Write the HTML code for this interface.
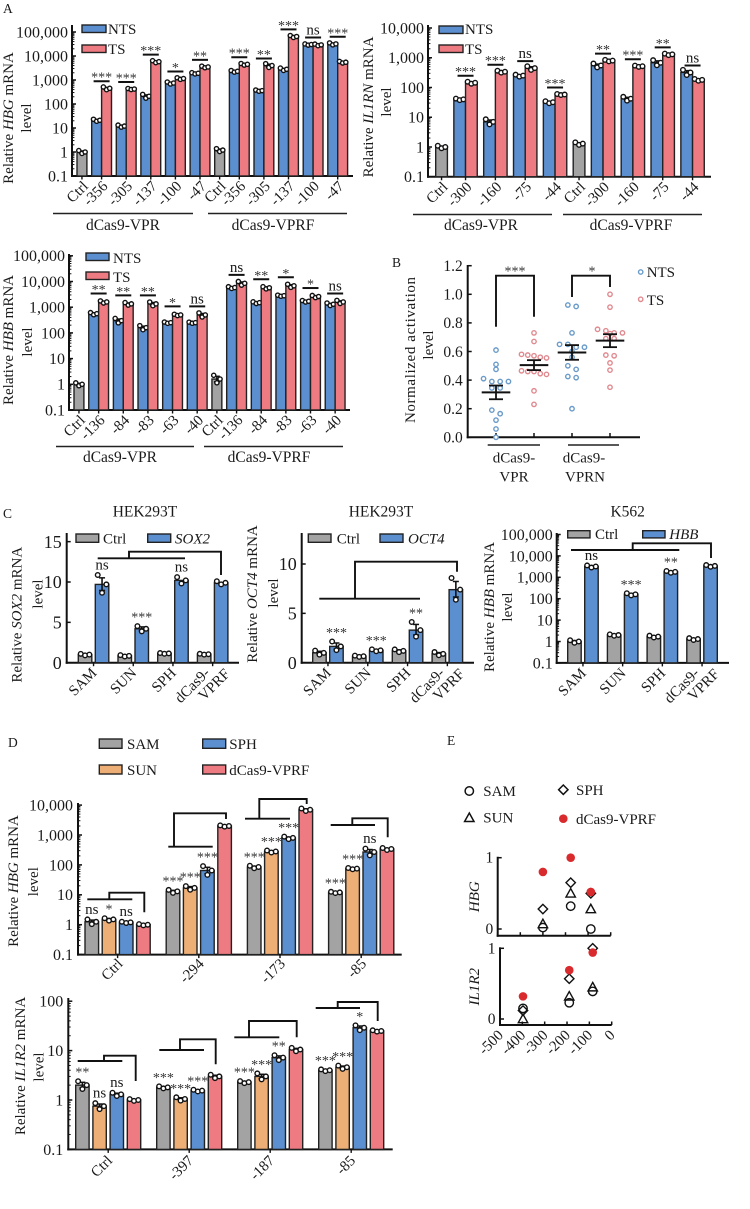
<!DOCTYPE html>
<html lang="en">
<head>
<meta charset="utf-8">
<title>CRISPR activation figure</title>
<style>
html,body{margin:0;padding:0;background:#fff;}
svg{display:block;font-family:"Liberation Serif",serif;fill:#1a1a1a;font-size:15px;}
.box{stroke:#222;stroke-width:1.4;}
.ln{fill:none;stroke:#111;stroke-width:1.9;}
.gl{fill:none;stroke:#222;stroke-width:1.4;}
.pl{font-size:13.5px;}
.ti{font-size:15.5px;}
</style>
</head>
<body>
<svg id="figure" xmlns="http://www.w3.org/2000/svg" width="750" height="1209" viewBox="0 0 750 1209">
<rect x="0" y="0" width="750" height="1209" fill="#fff"/>

<text class="pl" x="3" y="13">A</text>
<text class="pl" x="392" y="267">B</text>
<text class="pl" x="3" y="518">C</text>
<text class="pl" x="8" y="747">D</text>
<text class="pl" x="447" y="745">E</text>

<g id="chart-hbg">
  <text transform="rotate(-90 13 118)" x="13" y="118" text-anchor="middle">Relative <tspan font-style="italic">HBG</tspan> mRNA</text>
  <text transform="rotate(-90 31 118)" x="31" y="118" text-anchor="middle">level</text>
  <rect class="box" x="82" y="25" width="24" height="7.5" fill="#5b8fcf"/>
  <text x="108" y="34">NTS</text>
  <rect class="box" x="82" y="45" width="24" height="7.5" fill="#ee7b82"/>
  <text x="108" y="54">TS</text>
  <path d="M53 213.5H193M208 213.5H347" class="gl" stroke="#777"/>
  <text x="123" y="230" text-anchor="middle" font-size="15.5">dCas9-VPR</text>
  <text x="273" y="230" text-anchor="middle" font-size="15.5">dCas9-VPRF</text>
</g>

<g id="chart-il1rn">
  <text transform="rotate(-90 373 107)" x="373" y="107" text-anchor="middle">Relative <tspan font-style="italic">IL1RN</tspan> mRNA</text>
  <text transform="rotate(-90 391 102)" x="391" y="102" text-anchor="middle">level</text>
  <rect class="box" x="439" y="26" width="24" height="7.5" fill="#5b8fcf"/>
  <text x="465" y="34">NTS</text>
  <rect class="box" x="439" y="45" width="24" height="7.5" fill="#ee7b82"/>
  <text x="465" y="54">TS</text>
  <path d="M413 214.5H552M563 214.5H702" class="gl"/>
  <text x="481" y="230" text-anchor="middle" font-size="15.5">dCas9-VPR</text>
  <text x="631" y="230" text-anchor="middle" font-size="15.5">dCas9-VPRF</text>
</g>

<g id="chart-hbb">
  <text transform="rotate(-90 13 340)" x="13" y="340" text-anchor="middle">Relative <tspan font-style="italic">HBB</tspan> mRNA</text>
  <text transform="rotate(-90 32 342)" x="32" y="342" text-anchor="middle">level</text>
  <rect class="box" x="86" y="253" width="23" height="7.5" fill="#5b8fcf"/>
  <text x="113" y="263">NTS</text>
  <rect class="box" x="86" y="272" width="23" height="7.5" fill="#ee7b82"/>
  <text x="113" y="282">TS</text>
  <path d="M56 446.5H194M204 446.5H343" class="gl"/>
  <text x="120" y="462" text-anchor="middle" font-size="15.5">dCas9-VPR</text>
  <text x="269" y="462" text-anchor="middle" font-size="15.5">dCas9-VPRF</text>
</g>

<g id="chart-activation">
  <text transform="rotate(-90 415 350)" x="415" y="350" text-anchor="middle" textLength="146">Normalized activation</text>
  <text transform="rotate(-90 433 345)" x="433" y="345" text-anchor="middle">level</text>
  <path d="M496 326.7V275.7H534V316.7M572 297V275.7H610V287" class="ln"/>
  <text x="515" y="275.5" text-anchor="middle" font-size="14" fill="#333">***</text>
  <text x="592" y="275.5" text-anchor="middle" font-size="14" fill="#333">*</text>
  <circle cx="640.7" cy="272" r="2.2" fill="#fff" stroke="#6a9bc9" stroke-width="1.4"/>
  <text x="646.7" y="277">NTS</text>
  <circle cx="640.7" cy="299.3" r="2.2" fill="#fff" stroke="#e08a90" stroke-width="1.4"/>
  <text x="646.7" y="305">TS</text>
  <path d="M487.7 445H540M568 445H619" class="gl"/>
  <text x="514" y="462.7" text-anchor="middle">dCas9-</text>
  <text x="514" y="481.7" text-anchor="middle">VPR</text>
  <text x="584" y="462.7" text-anchor="middle">dCas9-</text>
  <text x="585" y="481.7" text-anchor="middle">VPRN</text>
</g>

<g id="chart-sox2">
  <text class="ti" x="145" y="516.7" text-anchor="middle">HEK293T</text>
  <text transform="rotate(-90 21.7 614.7)" x="21.7" y="614.7" text-anchor="middle">Relative <tspan font-style="italic">SOX2</tspan> mRNA</text>
  <text transform="rotate(-90 42.7 594)" x="42.7" y="594" text-anchor="middle">level</text>
  <rect class="box" x="76" y="534" width="22.7" height="8.3" fill="#a3a3a3"/>
  <text x="103" y="543.3">Ctrl</text>
  <rect class="box" x="147.7" y="534" width="23" height="8.3" fill="#5b8fcf"/>
  <text x="175" y="543.3" font-style="italic">SOX2</text>
  <path d="M97.7 558.3H185M129 558.3V551.7H221V575" class="ln"/>
</g>

<g id="chart-oct4">
  <text class="ti" x="381" y="516.7" text-anchor="middle">HEK293T</text>
  <text transform="rotate(-90 257 594)" x="257" y="594" text-anchor="middle">Relative <tspan font-style="italic">OCT4</tspan> mRNA</text>
  <text transform="rotate(-90 278 593)" x="278" y="593" text-anchor="middle">level</text>
  <rect class="box" x="308.3" y="534" width="22.7" height="8.3" fill="#a3a3a3"/>
  <text x="336.7" y="543.3">Ctrl</text>
  <rect class="box" x="380" y="534" width="23" height="8.3" fill="#5b8fcf"/>
  <text x="408" y="543.3" font-style="italic">OCT4</text>
  <path d="M319.3 598.7H420M355 598.7V561.7H457V571.7" class="ln"/>
</g>

<g id="chart-k562">
  <text class="ti" x="627.7" y="516.7" text-anchor="middle">K562</text>
  <text transform="rotate(-90 494 607)" x="494" y="607" text-anchor="middle">Relative <tspan font-style="italic">HBB</tspan> mRNA</text>
  <text transform="rotate(-90 512 607)" x="512" y="607" text-anchor="middle">level</text>
  <rect class="box" x="567.7" y="530.7" width="22.3" height="7.2" fill="#a3a3a3"/>
  <text x="595" y="539">Ctrl</text>
  <rect class="box" x="642.7" y="530.7" width="22.3" height="7.2" fill="#5b8fcf"/>
  <text x="669.3" y="539" font-style="italic">HBB</text>
  <path d="M571 550H679.3M632.7 550V543.3H711V558" class="ln"/>
</g>

<g id="chart-d-legend">
  <rect class="box" x="99.3" y="739" width="22.7" height="9.3" fill="#a3a3a3"/>
  <text x="127" y="749">SAM</text>
  <rect class="box" x="99.3" y="765" width="22.7" height="9" fill="#eeaf76"/>
  <text x="127" y="775">SUN</text>
  <rect class="box" x="202.7" y="739" width="23" height="9.3" fill="#5b8fcf"/>
  <text x="229.3" y="749">SPH</text>
  <rect class="box" x="202.7" y="765" width="23" height="9" fill="#ee7b82"/>
  <text x="229.3" y="775">dCas9-VPRF</text>
</g>

<g id="chart-d-hbg">
  <text transform="rotate(-90 18 881)" x="18" y="881" text-anchor="middle">Relative <tspan font-style="italic">HBG</tspan> mRNA</text>
  <text transform="rotate(-90 38 881.7)" x="38" y="881.7" text-anchor="middle">level</text>
  <path d="M87.3 899.3H132.3M109.3 899.3V892.7H144.3V912.3" class="ln"/>
  <path d="M168.3 846.7H212.7M174 846.7V813.3H226V819" class="ln"/>
  <path d="M245 818.7H290M259.3 818.7V799H306.7V804" class="ln"/>
  <path d="M330.7 825H375M352.3 825V818.3H387.7V837.3" class="ln"/>
</g>

<g id="chart-d-il1r2">
  <text transform="rotate(-90 25 1066)" x="25" y="1066" text-anchor="middle">Relative <tspan font-style="italic">IL1R2</tspan> mRNA</text>
  <text transform="rotate(-90 43.3 1067)" x="43.3" y="1067" text-anchor="middle">level</text>
  <path d="M77.7 1061H122.3M104 1061V1055.7H135.7V1081" class="ln"/>
  <path d="M159.3 1050H204M180 1050V1039.3H215.7V1064.3" class="ln"/>
  <path d="M234.3 1037.3H279.3M249 1037.3V1021H296.7V1037.3" class="ln"/>
  <path d="M315.7 1008H360M337.7 1008V1002H377.7V1021" class="ln"/>
</g>

<g id="chart-e">
  <circle cx="469.3" cy="791" r="4.2" fill="none" stroke="#111" stroke-width="1.5"/>
  <text x="483.3" y="796">SAM</text>
  <path d="M469.3 813L474 821.5H464.6Z" fill="none" stroke="#111" stroke-width="1.5"/>
  <text x="483.3" y="822.7">SUN</text>
  <path d="M563.3 785L568 789.7L563.3 794.4L558.6 789.7Z" fill="none" stroke="#111" stroke-width="1.5"/>
  <text x="576" y="795">SPH</text>
  <circle cx="563.3" cy="818.7" r="4.3" fill="#d92a2e"/>
  <text x="576" y="824">dCas9-VPRF</text>
  <text transform="rotate(-90 479 896.7)" x="479" y="896.7" text-anchor="middle" font-style="italic">HBG</text>
  <text transform="rotate(-90 479 986.7)" x="479" y="986.7" text-anchor="middle" font-style="italic">IL1R2</text>
</g>
</svg>

<script>
/* ---------- Panel A: HBG ---------- */
const hbgSites = ['Ctrl','-356','-305','-137','-100','-47','Ctrl','-356','-305','-137','-100','-47'];
const hbgNts = [1,21,12,210,750,1900,1.2,2300,360,2800,30000,32000];
const hbgTs = [null,450,420,5800,1150,3500,null,4500,4000,65000,29000,5500];
const hbgNtsSpread = [0.15,0.1,0.1,0.2,0.1,0.06,0.15,0.08,0.06,0.12,0.06,0.1];
const hbgTsSpread = [0,0.14,0.05,0.1,0.08,0.08,0,0.08,0.2,0.1,0.08,0.08];
const hbgSig = ['','***','***','***','*','**','','***','**','***','ns','***'];
const hbgTickValues = [0.1,1,10,100,1000,10000,100000];
const hbgTickLabels = ['0.1','1','10','100','1,000','10,000','100,000'];

/* ---------- Panel A: IL1RN ---------- */
const il1rnSites = ['Ctrl','-300','-160','-75','-44','Ctrl','-300','-160','-75','-44'];
const il1rnNts = [1,40,7,250,32,1.3,550,42,680,320];
const il1rnTs = [null,145,340,450,58,null,800,520,1300,180];
const il1rnNtsSpread = [0.1,0.06,0.22,0.08,0.08,0.1,0.16,0.16,0.22,0.22];
const il1rnTsSpread = [0,0.08,0.08,0.15,0.04,0,0.06,0.05,0.06,0.07];
const il1rnSig = ['','***','***','ns','***','','**','***','**','ns'];
const il1rnTickValues = [0.1,1,10,100,1000,10000];
const il1rnTickLabels = ['0.1','1','10','100','1,000','10,000'];

/* ---------- Panel A: HBB ---------- */
const hbbSites = ['Ctrl','-136','-84','-83','-63','-40','Ctrl','-136','-84','-83','-63','-40'];
const hbbNts = [1,560,300,160,250,250,1.6,5800,1500,2800,1700,1300];
const hbbTs = [null,1600,1350,1350,500,500,null,8500,5700,6800,2600,1600];
const hbbNtsSpread = [0.14,0.1,0.22,0.2,0.06,0.05,0.4,0.08,0.08,0.05,0.07,0.12];
const hbbTsSpread = [0,0.1,0.12,0.18,0.06,0.2,0,0.18,0.1,0.15,0.1,0.15];
const hbbSig = ['','**','**','**','*','ns','','ns','**','*','*','ns'];
const hbbTickValues = [0.1,1,10,100,1000,10000,100000];
const hbbTickLabels = ['0.1','1','10','100','1,000','10,000','100,000'];

/* ---------- Panel B ---------- */
const vprNts = [0.61,0.51,0.475,0.41,0.39,0.39,0.39,0.345,0.345,0.19,0.165,0.12,0.058,0];
const vprTs = [0.73,0.67,0.58,0.575,0.57,0.56,0.555,0.465,0.46,0.46,0.445,0.44,0.325,0.23];
const vprnNts = [0.925,0.915,0.73,0.65,0.65,0.63,0.63,0.6,0.56,0.5,0.475,0.425,0.417,0.2];
const vprnTs = [1,0.91,0.755,0.745,0.73,0.73,0.725,0.69,0.69,0.575,0.57,0.52,0.47,0.35];
const activationTickValues = [0,0.2,0.4,0.6,0.8,1,1.2];
const activationTickLabels = ['0.0','0.2','0.4','0.6','0.8','1.0','1.2'];

/* ---------- Panel C ---------- */
const systems = ['SAM','SUN','SPH','dCas9-|VPRF'];
const sox2Ctrl = [1,0.85,1.15,1.05];
const sox2Target = [9.7,4.2,10.2,9.9];
const sox2CtrlSpread = [0.1,0.1,0.04,0.05];
const sox2TargetSpread = [0.12,0.08,0.04,0.02];
const sox2Sig = ['ns','***','ns',''];
const sox2TickValues = [0,5,10,15];
const sox2TickLabels = ['0','5','10','15'];

const oct4Ctrl = [1,0.65,1.2,0.9];
const oct4Target = [1.65,1.25,3.3,7.4];
const oct4CtrlSpread = [0.22,0.1,0.12,0.2];
const oct4TargetSpread = [0.3,0.08,0.25,0.16];
const oct4Sig = ['***','***','**',''];
const oct4TickValues = [0,5,10];
const oct4TickLabels = ['0','5','10'];

const k562Ctrl = [1,2,1.7,1.3];
const k562Target = [3200,160,1800,3400];
const k562CtrlSpread = [0.15,0.08,0.1,0.1];
const k562TargetSpread = [0.12,0.12,0.1,0.1];
const k562Sig = ['ns','***','**',''];
const k562TickValues = [0.1,1,10,100,1000,10000,100000];
const k562TickLabels = ['0.1','1','10','100','1,000','10,000','100,000'];

/* ---------- Panel D: HBG ---------- */
const dHbgSites = ['Ctrl','-294','-173','-85'];
const dHbgSam = [1.25,13,85,12];
const dHbgSun = [1.5,17,280,75];
const dHbgSph = [1.2,65,800,270];
const dHbgVprf = [1,2000,7000,340];
const dHbgSamSpread = [0.2,0.12,0.1,0.05];
const dHbgSunSpread = [0.1,0.15,0.08,0.05];
const dHbgSphSpread = [0.05,0.4,0.1,0.3];
const dHbgVprfSpread = [0.05,0.05,0.1,0.08];
const dHbgSamSig = ['ns','***','***','***'];
const dHbgSunSig = ['*','***','***','***'];
const dHbgSphSig = ['ns','***','***','ns'];
const dHbgTickValues = [0.1,1,10,100,1000,10000];
const dHbgTickLabels = ['0.1','1','10','100','1,000','10,000'];

/* ---------- Panel D: IL1R2 ---------- */
const dIl1r2Sites = ['Ctrl','-397','-187','-85'];
const dIl1r2Sam = [2,1.8,2.3,4];
const dIl1r2Sun = [0.75,1.05,3,4.6];
const dIl1r2Sph = [1.3,1.55,7.2,29];
const dIl1r2Vprf = [1,3,10.5,25];
const dIl1r2SamSpread = [0.2,0.05,0.05,0.04];
const dIl1r2SunSpread = [0.15,0.08,0.15,0.08];
const dIl1r2SphSpread = [0.08,0.04,0.12,0.12];
const dIl1r2VprfSpread = [0.04,0.08,0.08,0.03];
const dIl1r2SamSig = ['**','***','***','***'];
const dIl1r2SunSig = ['ns','***','***','***'];
const dIl1r2SphSig = ['ns','***','**','*'];
const dIl1r2TickValues = [0.1,1,10,100];
const dIl1r2TickLabels = ['0.1','1','10','100'];

/* ---------- Panel E ---------- */
const eHbgSites = [-300,-177,-88];
const eHbgSam = [0.02,0.32,0];
const eHbgSun = [0.07,0.5,0.28];
const eHbgSph = [0.28,0.65,0.5];
const eHbgVprf = [0.8,1,0.52];
const eIl1r2Sites = [-397,-190,-85];
const eIl1r2Sam = [0.15,0.23,0.39];
const eIl1r2Sun = [0,0.32,0.45];
const eIl1r2Sph = [0.12,0.57,1];
const eIl1r2Vprf = [0.32,0.69,0.94];
const ePositionTicks = [-500,-400,-300,-200,-100,0];
const eRankTicks = [0,1];

/* ---------- drawing helpers ---------- */
const NS = 'http://www.w3.org/2000/svg';
const BLUE = '#5b8fcf', RED = '#ee7b82', GRAY = '#a3a3a3', ORANGE = '#eeaf76';

function node(tag, attrs, parent) {
  const e = document.createElementNS(NS, tag);
  for (const k in attrs) e.setAttribute(k, attrs[k]);
  parent.appendChild(e);
  return e;
}
function logScale(yOne, perDecade) { return v => yOne - perDecade * Math.log10(v); }
function linScale(yZero, perUnit) { return v => yZero - perUnit * v; }

function line(p, x1, y1, x2, y2, sw, name) {
  const e = node('line', {x1, y1, x2, y2, stroke: '#111', 'stroke-width': sw}, p);
  
  
  return e;
}
function label(p, x, y, str, size, anchor, name, extra) {
  const e = node('text', Object.assign({x, y, 'font-size': size, 'text-anchor': anchor}, extra || {}), p);
  e.textContent = str;
  
  
  return e;
}
function slug(s) { return String(s).replace(/[^A-Za-z0-9]+/g, '-').replace(/^-|-$/g, '').toLowerCase(); }

function yAxis(p, o) {
  line(p, o.x, o.top, o.x, o.bottom + 1, 2, 'y-axis-line');
  o.ticks.forEach((t, i) => {
    const y = o.scale(t);
    line(p, o.x, y, o.x + (o.tickLen || 4), y, 1.5, 'y-axis-tick');
    label(p, o.x - (o.pad || 5), y + (o.size || 16) * 0.34, o.labels[i], o.size || 16, 'end', 'y-tick-label');
    if (o.log) {
      for (let m = 2; m < 10; m++) {
        const my = o.scale(t * m);
        if (my >= o.top) line(p, o.x, my, o.x + 2.4, my, 1, 'y-axis-minor-tick');
      }
    }
  });
}
function rotatedLabel(p, x, y, str, size) {
  const e = label(p, x, y, str, size, 'end', 'x-tick-label-' + slug(str), {transform: 'rotate(-45 ' + x + ' ' + y + ')'});
  return e;
}
function xCategoryLabel(p, cx, axisY, str, size, dx, dy) {
  const parts = str.split('|');
  if (parts.length === 1) {
    rotatedLabel(p, cx + dx, axisY + dy, parts[0], size);
  } else {
    rotatedLabel(p, cx + dx - 6, axisY + dy, parts[0], size);
    rotatedLabel(p, cx + dx + 14, axisY + dy + 1, parts[1], size);
  }
}
function bar(p, x, w, value, base, scale, fill, spread, dotR, name) {
  const top = scale(value);
  const r = node('rect', {x, y: top, width: w, height: Math.max(0, base - top), fill, stroke: '#222', 'stroke-width': 1.4}, p);
  
  
  const cx = x + w / 2;
  const hi = value * (1 + spread), lo = value / (1 + spread);
  const eHi = scale(value * (1 + spread * 0.7)), eLo = scale(value / (1 + spread * 0.7));
  if (spread >= 0.08) {
    line(p, cx, eHi, cx, eLo, 1.6, 'error-bar');
    line(p, cx - 3, eHi, cx + 3, eHi, 1.5, 'error-cap');
    line(p, cx - 3, eLo, cx + 3, eLo, 1.5, 'error-cap');
  }
  const offs = [-w * 0.32, 0, w * 0.32];
  const vals = [hi, lo, value];
  vals.forEach((v, i) => {
    const c = node('circle', {cx: cx + offs[i], cy: scale(v), r: dotR, fill: '#fff', stroke: '#111', 'stroke-width': 1.4}, p);
    
    
  });
}
function sigText(p, cx, refY, str) {
  if (!str) return;
  if (str === 'ns') {
    label(p, cx, refY - 4, 'ns', 15, 'middle', 'significance-ns');
  } else {
    label(p, cx, refY - 4, str, 14, 'middle', 'significance-stars', {fill: '#333'});
  }
}

/* Panels A: paired NTS / TS bars with a single grey control */
function strandChart(id, o) {
  const g = document.getElementById(id);
  const base = o.scale(o.ticks[0]);
  yAxis(g, {x: o.axisX, top: o.top, bottom: base, scale: o.scale, ticks: o.ticks, labels: o.tickLabels, log: true, size: 16, pad: 4});
  line(g, o.axisX - 1, base, o.axisEnd, base, 2, 'x-axis-line');
  let cur = o.start;
  o.sites.forEach((site, i) => {
    const single = o.ts[i] === null;
    const cx = cur + (single ? o.w / 2 : o.w);
    const nm = slug(site) + '-' + i;
    bar(g, cur, o.w, o.nts[i], base, o.scale, single ? GRAY : BLUE, o.ntsSpread[i], o.r, (single ? 'bar-ctrl-' : 'bar-nts-') + nm);
    if (!single) {
      bar(g, cur + o.w, o.w, o.ts[i], base, o.scale, RED, o.tsSpread[i], o.r, 'bar-ts-' + nm);
      const maxTop = o.scale(Math.max(o.nts[i], o.ts[i]));
      const ly = maxTop - o.rise;
      line(g, cx - 8, ly, cx + 8, ly, 2, 'significance-line');
      sigText(g, cx, o.sig[i] === 'ns' ? ly + 1 : ly + 4.5, o.sig[i]);
    }
    line(g, cx, base, cx, base + 3.5, 1.4, 'x-axis-tick');
    xCategoryLabel(g, cx, base, site, 15, 7, 11);
    cur += (single ? o.w : 2 * o.w) + o.gap;
  });
}

/* Panels C and D: grouped bars */
function groupedChart(id, o) {
  const g = document.getElementById(id);
  const base = o.scale(o.ticks[0]);
  yAxis(g, {x: o.axisX, top: o.top, bottom: base, scale: o.scale, ticks: o.ticks, labels: o.tickLabels, log: o.log, size: o.tickSize, pad: o.pad});
  line(g, o.axisX - 1, base, o.axisEnd, base, 2, 'x-axis-line');
  const n = o.series.length;
  o.cats.forEach((cat, i) => {
    const gx = o.start + i * o.period;
    const cx = gx + (n * o.w + (n - 1) * o.inner) / 2;
    o.series.forEach((s, j) => {
      const x = gx + j * (o.w + o.inner);
      const v = s.values[i], sp = s.spread[i];
      bar(g, x, o.w, v, base, o.scale, s.color, sp, 2.3, 'bar-' + s.name + '-' + slug(cat));
      if (s.sig && s.sig[i]) {
        const topY = o.scale(v * (1 + sp));
        const isNs = s.sig[i] === 'ns';
        sigText(g, x + o.w / 2, isNs ? topY - 1.5 : topY - 0.5, s.sig[i]);
      }
    });
    line(g, cx, base, cx, base + 3.5, 1.4, 'x-axis-tick');
    xCategoryLabel(g, cx, base, cat, 15, o.labelDx, o.labelDy);
  });
}

/* Panel B: rows of points around a mean with SEM */
function swarm(p, cx, scale, values, color, name) {
  let rows = [];
  [...values].sort((a, b) => b - a).forEach(v => {
    const r = rows[rows.length - 1];
    if (r && r[0] - v <= 0.03) r.push(v); else rows.push([v]);
  });
  rows.forEach(r => {
    const step = r.length > 1 ? Math.min(8.3, 25 / (r.length - 1)) : 0;
    r.forEach((v, i) => {
      const c = node('circle', {cx: cx + (i - (r.length - 1) / 2) * step, cy: scale(v), r: 2.2, fill: '#fff', stroke: color, 'stroke-width': 1.4}, p);
      
      
    });
  });
  const mean = values.reduce((a, b) => a + b, 0) / values.length;
  const sd = Math.sqrt(values.reduce((a, b) => a + (b - mean) * (b - mean), 0) / (values.length - 1));
  const sem = sd / Math.sqrt(values.length);
  line(p, cx - 14.3, scale(mean), cx + 14.3, scale(mean), 2, name + '-mean');
  line(p, cx, scale(mean + sem), cx, scale(mean - sem), 1.8, name + '-error-bar');
  line(p, cx - 7, scale(mean + sem), cx + 7, scale(mean + sem), 1.8, name + '-error-cap');
  line(p, cx - 7, scale(mean - sem), cx + 7, scale(mean - sem), 1.8, name + '-error-cap');
}

/* Panel E */
function marker(p, kind, x, y, name) {
  let e;
  if (kind === 'circle') e = node('circle', {cx: x, cy: y, r: 4.2, fill: 'none', stroke: '#111', 'stroke-width': 1.4}, p);
  if (kind === 'triangle') e = node('path', {d: 'M' + x + ' ' + (y - 4.8) + 'L' + (x + 4.7) + ' ' + (y + 3.7) + 'H' + (x - 4.7) + 'Z', fill: 'none', stroke: '#111', 'stroke-width': 1.4}, p);
  if (kind === 'diamond') e = node('path', {d: 'M' + x + ' ' + (y - 4.7) + 'L' + (x + 4.7) + ' ' + y + 'L' + x + ' ' + (y + 4.7) + 'L' + (x - 4.7) + ' ' + y + 'Z', fill: 'none', stroke: '#111', 'stroke-width': 1.4}, p);
  if (kind === 'dot') e = node('circle', {cx: x, cy: y, r: 4.3, fill: '#d92a2e'}, p);
  
  
}
function rankChart(g, o) {
  const yS = linScale(o.yZero, o.yZero - o.yOne);
  const xS = v => o.axisX + (v + 500) * (o.xEnd - o.axisX) / 500;
  line(g, o.axisX, o.yOne - 1, o.axisX, o.axisY + 1, 2, 'y-axis-line');
  line(g, o.axisX - 1, o.axisY, o.xEnd, o.axisY, 2, 'x-axis-line');
  eRankTicks.forEach(t => {
    line(g, o.axisX, yS(t), o.axisX + 4, yS(t), 1.5, 'y-axis-tick');
    label(g, o.axisX - 4.5, yS(t) + 5, String(t), 15.5, 'end', 'y-tick-label');
  });
  ePositionTicks.forEach(t => {
    line(g, xS(t), o.axisY, xS(t), o.axisY - 3.5, 1.5, 'x-axis-tick');
    if (o.showX) {
      const x = xS(t) + 4, y = o.axisY + 11;
      label(g, x, y, String(t), 15, 'end', 'x-tick-label', {transform: 'rotate(-45 ' + x + ' ' + y + ')'});
    }
  });
  o.series.forEach(s => {
    s.values.forEach((v, i) => marker(g, s.kind, xS(o.sites[i]), yS(v), 'point-' + s.name));
  });
}

/* ---------- build charts ---------- */
strandChart('chart-hbg', {sites: hbgSites, nts: hbgNts, ts: hbgTs, ntsSpread: hbgNtsSpread, tsSpread: hbgTsSpread, sig: hbgSig,
  ticks: hbgTickValues, tickLabels: hbgTickLabels, scale: logScale(152, 24), axisX: 72, top: 25, axisEnd: 353, start: 77, w: 9.9, gap: 4.8, rise: 7.1, r: 2.1});
strandChart('chart-il1rn', {sites: il1rnSites, nts: il1rnNts, ts: il1rnTs, ntsSpread: il1rnNtsSpread, tsSpread: il1rnTsSpread, sig: il1rnSig,
  ticks: il1rnTickValues, tickLabels: il1rnTickLabels, scale: logScale(147, 29.75), axisX: 428, top: 25, axisEnd: 711, start: 435.7, w: 11.7, gap: 6.44, rise: 7, r: 2.3});
strandChart('chart-hbb', {sites: hbbSites, nts: hbbNts, ts: hbbTs, ntsSpread: hbbNtsSpread, tsSpread: hbbTsSpread, sig: hbbSig,
  ticks: hbbTickValues, tickLabels: hbbTickLabels, scale: logScale(384.3, 25.7), axisX: 69, top: 254, axisEnd: 350, start: 74, w: 9.9, gap: 4.84, rise: 8.5, r: 2.1});

(function () {
  const g = document.getElementById('chart-activation');
  const sc = linScale(437.3, 143);
  yAxis(g, {x: 467.7, top: 265, bottom: 437.3, scale: sc, ticks: activationTickValues, labels: activationTickLabels, size: 15.5, pad: 5});
  line(g, 466.7, 437.3, 640, 437.3, 2, 'x-axis-line');
  [496, 534, 572, 610].forEach(x => line(g, x, 437.3, x, 433, 1.5, 'x-axis-tick'));
  swarm(g, 496, sc, vprNts, '#6a9bc9', 'vpr-nts');
  swarm(g, 534, sc, vprTs, '#e08a90', 'vpr-ts');
  swarm(g, 572, sc, vprnNts, '#6a9bc9', 'vprn-nts');
  swarm(g, 610, sc, vprnTs, '#e08a90', 'vprn-ts');
})();

groupedChart('chart-sox2', {cats: systems, ticks: sox2TickValues, tickLabels: sox2TickLabels, scale: linScale(662.7, 8.07), log: false, tickSize: 18, pad: 5,
  axisX: 66.7, top: 533, axisEnd: 239, start: 78.3, w: 13.5, inner: 3.5, period: 39.7, labelDx: 4, labelDy: 11,
  series: [{name: 'ctrl', color: GRAY, values: sox2Ctrl, spread: sox2CtrlSpread},
           {name: 'sox2', color: BLUE, values: sox2Target, spread: sox2TargetSpread, sig: sox2Sig}]});
groupedChart('chart-oct4', {cats: systems, ticks: oct4TickValues, tickLabels: oct4TickLabels, scale: linScale(662.7, 9.87), log: false, tickSize: 18, pad: 5,
  axisX: 301.7, top: 533, axisEnd: 474, start: 312.7, w: 13.5, inner: 3.5, period: 39.8, labelDx: 4, labelDy: 11,
  series: [{name: 'ctrl', color: GRAY, values: oct4Ctrl, spread: oct4CtrlSpread},
           {name: 'oct4', color: BLUE, values: oct4Target, spread: oct4TargetSpread, sig: oct4Sig}]});
groupedChart('chart-k562', {cats: systems, ticks: k562TickValues, tickLabels: k562TickLabels, scale: logScale(641.5, 21.4), log: true, tickSize: 16, pad: 4,
  axisX: 556.7, top: 533, axisEnd: 729, start: 567.7, w: 13.5, inner: 3.5, period: 39.7, labelDx: 4, labelDy: 11,
  series: [{name: 'ctrl', color: GRAY, values: k562Ctrl, spread: k562CtrlSpread},
           {name: 'hbb', color: BLUE, values: k562Target, spread: k562TargetSpread, sig: k562Sig}]});

groupedChart('chart-d-hbg', {cats: dHbgSites, ticks: dHbgTickValues, tickLabels: dHbgTickLabels, scale: logScale(924.7, 29.9), log: true, tickSize: 16, pad: 5,
  axisX: 78, top: 803, axisEnd: 401.7, start: 85, w: 13.6, inner: 3.6, period: 81.2, labelDx: 6, labelDy: 10,
  series: [{name: 'sam', color: GRAY, values: dHbgSam, spread: dHbgSamSpread, sig: dHbgSamSig},
           {name: 'sun', color: ORANGE, values: dHbgSun, spread: dHbgSunSpread, sig: dHbgSunSig},
           {name: 'sph', color: BLUE, values: dHbgSph, spread: dHbgSphSpread, sig: dHbgSphSig},
           {name: 'vprf', color: RED, values: dHbgVprf, spread: dHbgVprfSpread}]});
groupedChart('chart-d-il1r2', {cats: dIl1r2Sites, ticks: dIl1r2TickValues, tickLabels: dIl1r2TickLabels, scale: logScale(1100, 49.4), log: true, tickSize: 16, pad: 5,
  axisX: 68.3, top: 998, axisEnd: 392.7, start: 75.7, w: 13.4, inner: 3.8, period: 81, labelDx: 5, labelDy: 12,
  series: [{name: 'sam', color: GRAY, values: dIl1r2Sam, spread: dIl1r2SamSpread, sig: dIl1r2SamSig},
           {name: 'sun', color: ORANGE, values: dIl1r2Sun, spread: dIl1r2SunSpread, sig: dIl1r2SunSig},
           {name: 'sph', color: BLUE, values: dIl1r2Sph, spread: dIl1r2SphSpread, sig: dIl1r2SphSig},
           {name: 'vprf', color: RED, values: dIl1r2Vprf, spread: dIl1r2VprfSpread}]});

(function () {
  const g = document.getElementById('chart-e');
  rankChart(g, {axisX: 497.7, xEnd: 610.7, yOne: 857.7, yZero: 929, axisY: 935.7, showX: false, sites: eHbgSites,
    series: [{name: 'hbg-sam', kind: 'circle', values: eHbgSam}, {name: 'hbg-sun', kind: 'triangle', values: eHbgSun},
             {name: 'hbg-sph', kind: 'diamond', values: eHbgSph}, {name: 'hbg-vprf', kind: 'dot', values: eHbgVprf}]});
  rankChart(g, {axisX: 500, xEnd: 611.7, yOne: 948.3, yZero: 1019, axisY: 1025, showX: true, sites: eIl1r2Sites,
    series: [{name: 'il1r2-sam', kind: 'circle', values: eIl1r2Sam}, {name: 'il1r2-sun', kind: 'triangle', values: eIl1r2Sun},
             {name: 'il1r2-sph', kind: 'diamond', values: eIl1r2Sph}, {name: 'il1r2-vprf', kind: 'dot', values: eIl1r2Vprf}]});
})();
</script>
</body>
</html>
